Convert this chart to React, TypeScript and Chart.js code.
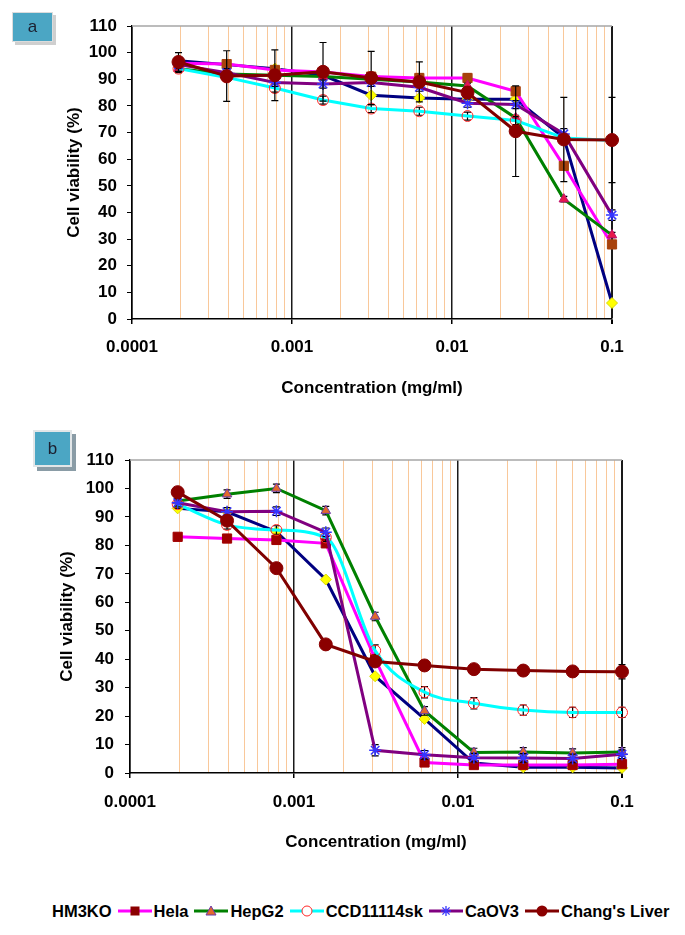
import React, { useEffect, useRef } from 'react';
import { Chart, registerables } from 'chart.js';
Chart.register(...registerables);

const FONT = "'Liberation Sans', Arial, Helvetica, sans-serif";

// ---------- data ----------
const concentrations = [0.0001953125, 0.000390625, 0.00078125, 0.0015625, 0.003125, 0.00625, 0.0125, 0.025, 0.05, 0.1];
const seriesNames = ['HM3KO', 'Hela', 'HepG2', 'CCD11114sk', 'CaOV3', "Chang's Liver"];

// panel a
const aHM3KO = [97, 95.5, 94, 91.5, 84, 83, 82.5, 82.5, 68, 6];
const aHela = [96, 95.7, 93.5, 92.7, 91, 90.5, 90.5, 85.5, 57.5, 28];
const aHepG2 = [94, 92, 91.5, 91, 90, 89, 87.5, 75.5, 45, 31.5];
const aCCD = [94, 90.7, 86.7, 82.2, 79, 78, 76.2, 74.5, 68, 67];
const aCaOV3 = [95.5, 92.5, 88.8, 88.2, 88.8, 87, 81, 80.5, 69.5, 39];
const aChang = [96.5, 91.2, 91.5, 92.8, 90.5, 89, 85, 70.5, 67.4, 67.2];

const aHM3KOErr = [0, 0, 0, 0, 0, 0, 0, 0, 0, 0];
const aHelaErr = [1, 1, 1, 1, 1, 1.5, 1.5, 1.5, 1, 1];
const aHepG2Err = [1, 1, 1, 1, 1, 1, 1, 1, 1, 1];
const aCCDErr = [1.5, 1.5, 1.5, 1.5, 1.5, 1.5, 1.5, 1.5, 1, 1];
const aCaOV3Err = [1.5, 1.5, 1.5, 1.5, 1.5, 1.5, 1.5, 1.5, 2, 2];
const aChangErr = [3.5, 9.5, 9.5, 11, 10, 7.5, 2, 17, 15.8, 16];

// panel b
const bHM3KO = [93, 91.8, 84.8, 68, 34, 19, 3.5, 2, 2, 1.8];
const bHela = [83, 82.4, 81.9, 80.7, 40, 3.7, 2.8, 2.8, 2.8, 3.1];
const bHepG2 = [95.6, 98, 100, 92.2, 55, 21.8, 7.2, 7.4, 7, 7.4];
const bCCD = [94.5, 87.2, 85.4, 82.8, 43, 28.4, 24.5, 22.1, 21.3, 21.3];
const bCaOV3 = [95, 91.8, 92, 84.6, 8, 6.4, 5.4, 5.3, 5.1, 6.6];
const bChang = [98.7, 88.7, 72, 45.2, 39.2, 37.8, 36.5, 36, 35.7, 35.6];

const bHM3KOErr = [0, 0, 0, 0, 0, 0, 0, 0, 0, 0];
const bHelaErr = [1, 1, 1, 1, 1, 1, 1, 1, 1, 1];
const bHepG2Err = [1.5, 1.5, 1.5, 1.5, 1.5, 1.5, 1.5, 1.5, 1.5, 1.5];
const bCCDErr = [1.5, 1.5, 1.5, 1.5, 2, 2, 2, 1.8, 1.8, 1.8];
const bCaOV3Err = [1.5, 1.5, 1.5, 1.5, 2, 1.5, 1.5, 1.5, 1.5, 1.5];
const bChangErr = [1.5, 1.5, 1.5, 1.5, 1.5, 1.5, 1.5, 1.5, 1.5, 2.5];

// axis
const xDecades = [0.0001, 0.001, 0.01, 0.1];
const xTickLabels = ['0.0001', '0.001', '0.01', '0.1'];
const xMinorMultipliers = [2, 3, 4, 5, 6, 7, 8, 9];
const yMin = 0;
const yMax = 110;
const yStep = 10;

// ---------- styles ----------
const lineColors = ['#000080', '#ff00ff', '#008000', '#00ffff', '#800080', '#800000'];
const pointStyles = ['rectRot', 'rect', 'triangle', 'circle', 'star', 'circle'];
const pointRadii = [5.5, 6.5, 5.5, 5.5, 6, 6.5];
const markerFillA = ['#ffff00', '#a8420c', '#e8184a', 'rgba(255,255,255,0)', '#3535ff', '#8b0000'];
const markerEdgeA = ['#d8d800', '#a8420c', '#c0106a', '#ff2a2a', '#3535ff', '#8b0000'];
const markerFillB = ['#ffff00', '#a00000', '#e2692c', 'rgba(255,255,255,0)', '#3535ff', '#8b0000'];
const markerEdgeB = ['#d8d800', '#a00000', '#6a3aa8', '#ff2a2a', '#3535ff', '#8b0000'];

const isDecade = (v: number) => xDecades.some((d) => Math.abs(v / d - 1) < 1e-6);
const gridValues = [
  ...xDecades,
  ...xDecades.slice(0, 3).flatMap((d) => xMinorMultipliers.map((m) => d * m)),
].sort((p, q) => p - q);

const framePlugin = {
  id: 'frameAndErrors',
  beforeDatasetsDraw(chart: any) {
    const { ctx, chartArea } = chart;
    ctx.save();
    ctx.strokeStyle = '#a6a6a6';
    ctx.lineWidth = 1.5;
    ctx.beginPath();
    ctx.moveTo(chartArea.left, chartArea.top);
    ctx.lineTo(chartArea.right, chartArea.top);
    ctx.stroke();
    ctx.restore();
  },
  beforeDatasetDraw(chart: any, args: any) {
    const { ctx } = chart;
    const yScale = chart.scales.y;
    const i = args.index;
    const ds: any = chart.data.datasets[i];
    const meta = args.meta;
    const errs: number[] = ds.errors || [];
    ctx.save();
    ctx.strokeStyle = '#000';
    ctx.lineWidth = 1.2;
    meta.data.forEach((pt: any, j: number) => {
      const e = errs[j];
      if (!e) return;
      const v = ds.data[j].y;
      const y1 = yScale.getPixelForValue(v + e);
      const y2 = yScale.getPixelForValue(Math.max(0, v - e));
      const x = pt.x;
      ctx.beginPath();
      ctx.moveTo(x, y1);
      ctx.lineTo(x, y2);
      ctx.moveTo(x - 3.5, y1);
      ctx.lineTo(x + 3.5, y1);
      ctx.moveTo(x - 3.5, y2);
      ctx.lineTo(x + 3.5, y2);
      ctx.stroke();
    });
    ctx.restore();
  },
};

type PanelCfg = {
  top: number;
  height: number;
  padLeft: number;
  padRight: number;
  padTop: number;
  padBottom: number;
  yWidth: number;
  xHeight: number;
  xTickPad: number;
  yTickPad: number;
  values: number[][];
  errors: number[][];
  fills: string[];
  edges: string[];
  smoothCCD: boolean;
};

const tickFont = { family: FONT, size: 17, weight: 'bold' as const };
const titleFont = { family: FONT, size: 17, weight: 'bold' as const };

function Panel({ cfg }: { cfg: PanelCfg }) {
  const ref = useRef<HTMLCanvasElement | null>(null);
  useEffect(() => {
    if (!ref.current) return;
    const datasets = cfg.values.map((vals, i) => ({
      label: seriesNames[i],
      data: concentrations.map((c, j) => ({ x: c, y: vals[j] })),
      errors: cfg.errors[i],
      borderColor: lineColors[i],
      backgroundColor: lineColors[i],
      borderWidth: 3,
      pointStyle: pointStyles[i],
      pointRadius: pointRadii[i],
      pointBackgroundColor: cfg.fills[i],
      pointBorderColor: cfg.edges[i],
      pointBorderWidth: i === 4 ? 1.5 : 1,
      tension: cfg.smoothCCD && i === 3 ? 0.4 : 0,
      cubicInterpolationMode: cfg.smoothCCD && i === 3 ? 'monotone' : 'default',
      order: seriesNames.length - i,
      clip: false as any,
    }));
    const chart = new Chart(ref.current, {
      type: 'line',
      data: { datasets } as any,
      options: {
        responsive: false,
        animation: false,
        devicePixelRatio: 1,
        layout: { padding: { left: cfg.padLeft, right: cfg.padRight, top: cfg.padTop, bottom: cfg.padBottom } },
        plugins: { legend: { display: false }, tooltip: { enabled: false } },
        scales: {
          x: {
            type: 'logarithmic',
            min: xDecades[0],
            max: xDecades[xDecades.length - 1],
            afterBuildTicks: (axis: any) => {
              axis.ticks = gridValues.map((v) => ({ value: v }));
            },
            afterFit: (s: any) => {
              s.height = cfg.xHeight;
            },
            ticks: {
              autoSkip: false,
              maxRotation: 0,
              minRotation: 0,
              padding: cfg.xTickPad,
              color: '#000',
              font: tickFont,
              callback: (v: any) => {
                const idx = xDecades.findIndex((d) => Math.abs(Number(v) / d - 1) < 1e-6);
                return idx >= 0 ? xTickLabels[idx] : '';
              },
            },
            grid: {
              drawOnChartArea: true,
              drawTicks: true,
              tickLength: 5,
              color: (c: any) => (isDecade(c.tick.value) ? '#1a1a1a' : '#f9c89a'),
              lineWidth: (c: any) => (isDecade(c.tick.value) ? (Math.abs(c.tick.value - 0.1) < 1e-9 ? 2 : 1.5) : 1),
              tickColor: (c: any) => (isDecade(c.tick.value) ? '#000' : 'rgba(0,0,0,0)'),
            },
            border: { display: true, color: '#000', width: 1.5 },
            title: {
              display: true,
              text: 'Concentration (mg/ml)',
              color: '#000',
              font: titleFont,
              padding: { top: 0, bottom: 0 },
            },
          },
          y: {
            min: yMin,
            max: yMax,
            afterFit: (s: any) => {
              s.width = cfg.yWidth;
            },
            ticks: { stepSize: yStep, color: '#000', font: tickFont, padding: cfg.yTickPad },
            grid: { drawOnChartArea: false, drawTicks: true, tickLength: 5, tickColor: '#000' },
            border: { display: true, color: '#000', width: 1.5 },
            title: {
              display: true,
              text: 'Cell viability (%)',
              color: '#000',
              font: titleFont,
              padding: { top: 4, bottom: 4 },
            },
          },
        },
      } as any,
      plugins: [framePlugin],
    });
    return () => chart.destroy();
  }, []);
  return (
    <canvas
      ref={ref}
      width={685}
      height={cfg.height}
      style={{ position: 'absolute', left: 0, top: cfg.top, width: 685, height: cfg.height, display: 'block' }}
    />
  );
}

const panelA: PanelCfg = {
  top: 0,
  height: 410,
  padLeft: 60,
  padRight: 73,
  padTop: 26,
  padBottom: 11,
  yWidth: 72,
  xHeight: 80,
  xTickPad: 13,
  yTickPad: 10,
  values: [aHM3KO, aHela, aHepG2, aCCD, aCaOV3, aChang],
  errors: [aHM3KOErr, aHelaErr, aHepG2Err, aCCDErr, aCaOV3Err, aChangErr],
  fills: markerFillA,
  edges: markerEdgeA,
  smoothCCD: false,
};

const panelB: PanelCfg = {
  top: 430,
  height: 433,
  padLeft: 53,
  padRight: 63,
  padTop: 30,
  padBottom: 10,
  yWidth: 77,
  xHeight: 80,
  xTickPad: 14,
  yTickPad: 11,
  values: [bHM3KO, bHela, bHepG2, bCCD, bCaOV3, bChang],
  errors: [bHM3KOErr, bHelaErr, bHepG2Err, bCCDErr, bCaOV3Err, bChangErr],
  fills: markerFillB,
  edges: markerEdgeB,
  smoothCCD: true,
};

function LegendMark({ i }: { i: number }) {
  const c = lineColors[i];
  const cx = 17;
  const cy = 9;
  let mark: any = null;
  if (i === 1) mark = <rect x={cx - 4.5} y={cy - 4.5} width={9} height={9} fill="#8b0000" />;
  if (i === 2) mark = <polygon points={`${cx},${cy - 5} ${cx + 5},${cy + 4} ${cx - 5},${cy + 4}`} fill="#e2692c" stroke="#6a3aa8" strokeWidth={1} />;
  if (i === 3) mark = <circle cx={cx} cy={cy} r={5} fill="#ffffff" stroke="#ff2a2a" strokeWidth={1} />;
  if (i === 4)
    mark = (
      <g stroke="#3535ff" strokeWidth={1.3}>
        <line x1={cx - 5} y1={cy} x2={cx + 5} y2={cy} />
        <line x1={cx} y1={cy - 5} x2={cx} y2={cy + 5} />
        <line x1={cx - 3.6} y1={cy - 3.6} x2={cx + 3.6} y2={cy + 3.6} />
        <line x1={cx - 3.6} y1={cy + 3.6} x2={cx + 3.6} y2={cy - 3.6} />
      </g>
    );
  if (i === 5) mark = <circle cx={cx} cy={cy} r={5.5} fill="#8b0000" />;
  return (
    <svg width={34} height={18} style={{ margin: '0 2px 0 6px', display: 'block' }}>
      <line x1={0} y1={cy} x2={34} y2={cy} stroke={c} strokeWidth={3} />
      {mark}
    </svg>
  );
}

function LabelBox({ text, left, top, w, h, shadow }: { text: string; left: number; top: number; w: number; h: number; shadow: string }) {
  return (
    <div
      style={{
        position: 'absolute',
        left,
        top,
        width: w,
        height: h,
        background: '#4ba6c4',
        boxShadow: shadow,
        display: 'flex',
        alignItems: 'center',
        justifyContent: 'center',
        font: `17px ${FONT}`,
        color: '#1c2030',
      }}
    >
      {text}
    </div>
  );
}

export default function App() {
  return (
    <div style={{ position: 'absolute', left: 0, top: 0, width: 685, height: 935, background: '#fff', overflow: 'hidden' }}>
      <Panel cfg={panelA} />
      <Panel cfg={panelB} />
      <LabelBox text="a" left={13} top={13} w={39} h={28} shadow="0 0 0 1px #dcdcdc, 3px 3px 0 1px #cfcfcf" />
      <LabelBox text="b" left={35} top={432} w={35} h={33} shadow="0 0 0 2px #e2e6e8, 4px 4px 0 2px #8a9ca6" />
      <div
        style={{
          position: 'absolute',
          top: 901,
          left: 52,
          display: 'flex',
          alignItems: 'center',
          font: `bold 16.5px ${FONT}`,
          lineHeight: '20px',
          color: '#000',
          whiteSpace: 'nowrap',
        }}
      >
        {seriesNames.map((n, i) => (
          <React.Fragment key={n}>
            {i > 0 && <LegendMark i={i} />}
            <span>{n}</span>
          </React.Fragment>
        ))}
      </div>
    </div>
  );
}
